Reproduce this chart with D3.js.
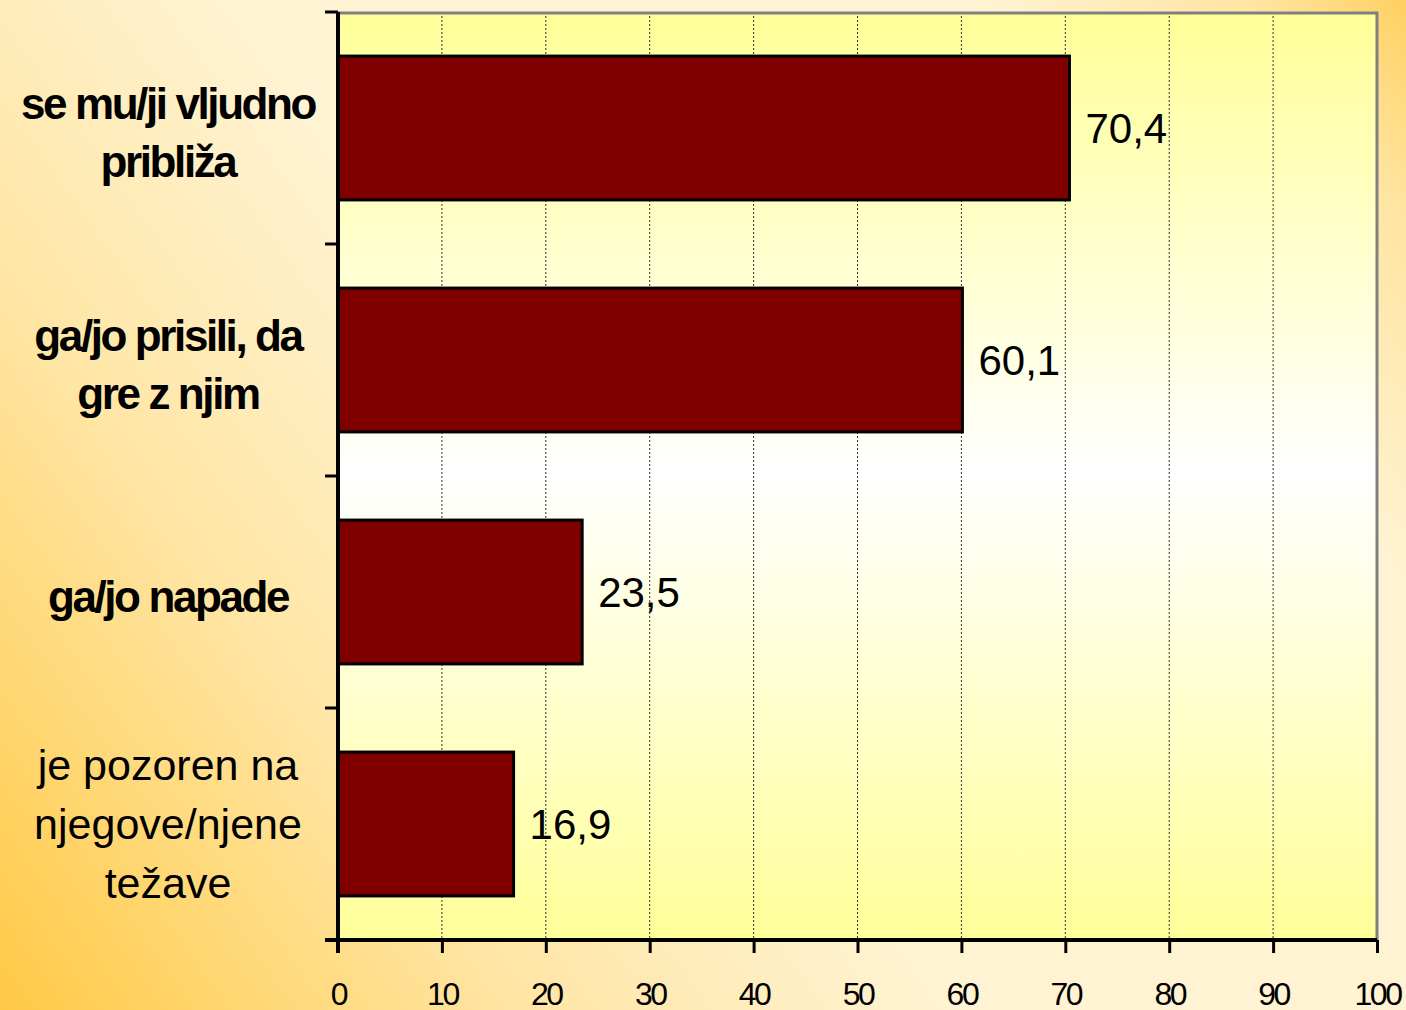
<!DOCTYPE html>
<html>
<head>
<meta charset="utf-8">
<script src="https://cdn.jsdelivr.net/npm/d3@7"></script>
<style>
  html, body { margin: 0; padding: 0; overflow: hidden; }
  svg { display: block; }
</style>
</head>
<body>
<svg id="chart" width="1406" height="1010"></svg>
<script>
// ---- data ----
const categories = [
  ["se mu/ji vljudno", "približa"],
  ["ga/jo prisili, da", "gre z njim"],
  ["ga/jo napade"],
  ["je pozoren na", "njegove/njene", "težave"]
];
const categoryBold = [true, true, true, false];
const values = [70.4, 60.1, 23.5, 16.9];
const valueLabels = ["70,4", "60,1", "23,5", "16,9"];
const xTicks = [0, 10, 20, 30, 40, 50, 60, 70, 80, 90, 100];

// ---- layout ----
const W = 1406, H = 1010;
const plot = { left: 338, right: 1377, top: 12, bottom: 940 };
const svg = d3.select("#chart");
const defs = svg.append("defs");

const bg = defs.append("linearGradient").attr("id", "bgGrad")
  .attr("gradientUnits", "userSpaceOnUse")
  .attr("x1", 0).attr("y1", H).attr("x2", W).attr("y2", 0);
[[0, "#ffc945"], [0.25, "#ffe6a6"], [0.45, "#fff3d3"], [0.8, "#fff3d3"], [0.93, "#ffe4a0"], [1, "#ffd060"]]
  .forEach(([o, c]) => bg.append("stop").attr("offset", o).attr("stop-color", c));

const pg = defs.append("linearGradient").attr("id", "plotGrad")
  .attr("x1", 0).attr("y1", 0).attr("x2", 0).attr("y2", 1);
[[0, "#ffff99"], [0.5, "#ffffff"], [1, "#ffff99"]]
  .forEach(([o, c]) => pg.append("stop").attr("offset", o).attr("stop-color", c));

svg.append("rect").attr("width", W).attr("height", H).attr("fill", "url(#bgGrad)");

const x = d3.scaleLinear().domain([0, 100]).range([plot.left, plot.right]);
const y = d3.scaleBand().domain(d3.range(categories.length))
  .range([plot.top, plot.bottom]).paddingInner(0.38).paddingOuter(0.19);
const yEdges = d3.scaleBand().domain(d3.range(categories.length))
  .range([plot.top, plot.bottom]).padding(0);

// plot background
svg.append("rect")
  .attr("x", plot.left).attr("y", plot.top)
  .attr("width", plot.right - plot.left).attr("height", plot.bottom - plot.top)
  .attr("fill", "url(#plotGrad)");

// gridlines
svg.append("g").selectAll("line").data(xTicks.filter(d => d > 0 && d < 100)).join("line")
  .attr("x1", d => x(d)).attr("x2", d => x(d))
  .attr("y1", plot.top).attr("y2", plot.bottom)
  .attr("stroke", "#333").attr("stroke-width", 1).attr("stroke-dasharray", "2,2");

// top/right border
svg.append("path")
  .attr("d", `M${plot.left},${plot.top + 1}H${plot.right}V${plot.bottom}`)
  .attr("fill", "none").attr("stroke", "#808080").attr("stroke-width", 3);

// bars
svg.append("g").selectAll("rect").data(values).join("rect")
  .attr("x", x(0)).attr("y", (d, i) => y(i))
  .attr("width", d => x(d) - x(0)).attr("height", y.bandwidth())
  .attr("fill", "#800000").attr("stroke", "#000").attr("stroke-width", 3);

// value labels
svg.append("g").selectAll("text").data(values).join("text")
  .attr("x", d => x(d) + 16)
  .attr("y", (d, i) => y(i) + y.bandwidth() / 2 + 15)
  .attr("font-family", "Liberation Sans, Arial, sans-serif")
  .attr("font-size", 42).attr("fill", "#000")
  .text((d, i) => valueLabels[i]);

// x axis
const xAxis = svg.append("g").attr("transform", `translate(0,${plot.bottom})`)
  .call(d3.axisBottom(x).tickValues(xTicks).tickSize(13).tickSizeOuter(0).tickFormat(d => d));
xAxis.select(".domain").attr("stroke", "#000").attr("stroke-width", 4)
  .attr("d", `M${plot.left - 13},0H${plot.right}`);
xAxis.selectAll(".tick line").attr("stroke", "#000").attr("stroke-width", 3);
xAxis.selectAll(".tick text")
  .attr("y", 65).attr("dy", 0)
  .attr("font-family", "Liberation Sans, Arial, sans-serif")
  .attr("font-size", 32).attr("letter-spacing", "-2.5px").attr("fill", "#000");

// y axis
const yAxisG = svg.append("g");
yAxisG.append("line")
  .attr("x1", plot.left).attr("x2", plot.left)
  .attr("y1", plot.top).attr("y2", plot.bottom + 13)
  .attr("stroke", "#000").attr("stroke-width", 4);
const edges = d3.range(categories.length).map(i => yEdges(i)).concat([plot.bottom]);
yAxisG.selectAll("line.tick").data(edges).join("line").attr("class", "tick")
  .attr("x1", plot.left - 13).attr("x2", plot.left)
  .attr("y1", d => d).attr("y2", d => d)
  .attr("stroke", "#000").attr("stroke-width", 3);

// category labels
const labelX = 168;
const catG = svg.append("g");
categories.forEach((lines, i) => {
  const bold = categoryBold[i];
  const cy = y(i) + y.bandwidth() / 2;
  const lh = bold ? 58 : 59;
  const first = cy + 14 - (lines.length - 1) * lh / 2 + (bold ? 6 : 1);
  const t = catG.append("text")
    .attr("text-anchor", "middle")
    .attr("font-family", "Liberation Sans, Arial, sans-serif")
    .attr("font-size", bold ? 44 : 43)
    .attr("font-weight", bold ? "bold" : "normal")
    .attr("letter-spacing", bold ? "-2.4px" : "0px")
    .attr("fill", "#000");
  lines.forEach((ln, k) => {
    t.append("tspan").attr("x", labelX).attr("y", first + k * lh).text(ln);
  });
});
</script>
</body>
</html>
